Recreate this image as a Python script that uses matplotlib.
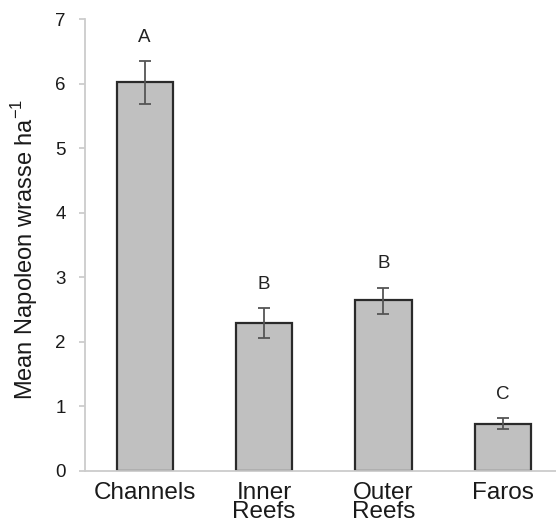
import matplotlib
matplotlib.use("Agg")
import matplotlib.pyplot as plt
import numpy as np

categories = ["Channels", "Inner\nReefs", "Outer\nReefs", "Faros"]
means = [6.02, 2.29, 2.64, 0.73]
err_upper = [0.33, 0.23, 0.20, 0.08]
err_lower = [0.34, 0.23, 0.21, 0.08]
letters = ["A", "B", "B", "C"]
yticks = [0, 1, 2, 3, 4, 5, 6, 7]

plt.rcParams['font.family'] = ['Liberation Sans', 'DejaVu Sans']
plt.rcParams['mathtext.fontset'] = 'custom'
plt.rcParams['mathtext.rm'] = 'Liberation Sans'

dpi = 100
fig = plt.figure(figsize=(5.56, 5.32), dpi=dpi)
ax = fig.add_axes([0.1529, 0.1152, 0.8471, 0.8487])

x = np.arange(len(categories))
ax.bar(x, means, width=0.47, color="#c0c0c0", edgecolor="#2a2a2a", linewidth=1.6, zorder=2)
ax.errorbar(x, means, yerr=[err_lower, err_upper], fmt="none", ecolor="#555555",
            elinewidth=1.3, capsize=4.5, capthick=1.3, zorder=3)

for xi, m, eu, lab in zip(x, means, err_upper, letters):
    ax.annotate(lab, (xi, m + eu), xytext=(0, 17), textcoords="offset points",
                ha="center", va="center", fontsize=13.5, color="#222222")

ax.set_xlim(-0.5, 3.445)
ax.set_ylim(0, 7)
ax.set_yticks(yticks)
ax.set_xticks(x)
ax.set_xticklabels(categories, fontsize=17.5, color="#1a1a1a", linespacing=0.82)
ax.tick_params(axis="y", labelsize=13.5, colors="#1a1a1a", length=4, width=1.2,
               color="#c8c8c8", pad=10)
ax.tick_params(axis="x", length=0, pad=8)
for s in ["top", "right"]:
    ax.spines[s].set_visible(False)
for s in ["left", "bottom"]:
    ax.spines[s].set_color("#cccccc")
    ax.spines[s].set_linewidth(1.3)

ax.set_ylabel(r"Mean Napoleon wrasse ha$^{\mathregular{-1}}$", fontsize=17, color="#1a1a1a")
ax.yaxis.set_label_coords(-0.096, 0.49)

fig.savefig("out.png", dpi=dpi)
